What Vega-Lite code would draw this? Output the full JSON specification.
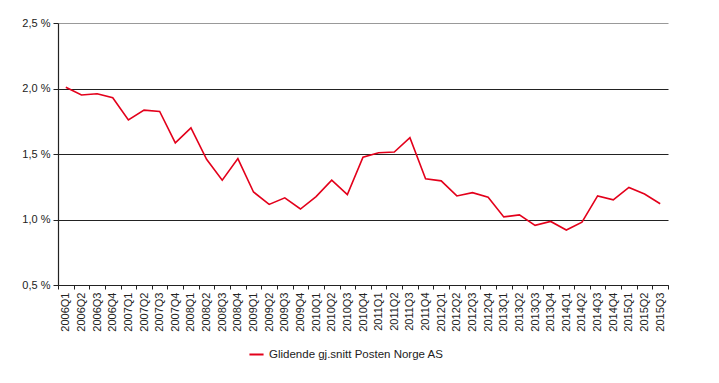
{
  "$schema": "https://vega.github.io/schema/vega-lite/v6.json",
  "autosize": "none",
  "width": 610,
  "height": 262,
  "padding": {"left": 58, "top": 23, "right": 51, "bottom": 98},
  "background": "white",
  "config": {
    "view": {"stroke": null},
    "font": "Liberation Sans",
    "axis": {"labelFont": "Liberation Sans", "labelColor": "#222", "labelFontSize": 11}
  },
  "data": {
    "values": [
      {"q": "2006Q1", "v": 2.01, "s": "Glidende gj.snitt Posten Norge AS"},
      {"q": "2006Q2", "v": 1.95, "s": "Glidende gj.snitt Posten Norge AS"},
      {"q": "2006Q3", "v": 1.96, "s": "Glidende gj.snitt Posten Norge AS"},
      {"q": "2006Q4", "v": 1.93, "s": "Glidende gj.snitt Posten Norge AS"},
      {"q": "2007Q1", "v": 1.76, "s": "Glidende gj.snitt Posten Norge AS"},
      {"q": "2007Q2", "v": 1.835, "s": "Glidende gj.snitt Posten Norge AS"},
      {"q": "2007Q3", "v": 1.825, "s": "Glidende gj.snitt Posten Norge AS"},
      {"q": "2007Q4", "v": 1.585, "s": "Glidende gj.snitt Posten Norge AS"},
      {"q": "2008Q1", "v": 1.70, "s": "Glidende gj.snitt Posten Norge AS"},
      {"q": "2008Q2", "v": 1.46, "s": "Glidende gj.snitt Posten Norge AS"},
      {"q": "2008Q3", "v": 1.30, "s": "Glidende gj.snitt Posten Norge AS"},
      {"q": "2008Q4", "v": 1.465, "s": "Glidende gj.snitt Posten Norge AS"},
      {"q": "2009Q1", "v": 1.21, "s": "Glidende gj.snitt Posten Norge AS"},
      {"q": "2009Q2", "v": 1.115, "s": "Glidende gj.snitt Posten Norge AS"},
      {"q": "2009Q3", "v": 1.165, "s": "Glidende gj.snitt Posten Norge AS"},
      {"q": "2009Q4", "v": 1.08, "s": "Glidende gj.snitt Posten Norge AS"},
      {"q": "2010Q1", "v": 1.175, "s": "Glidende gj.snitt Posten Norge AS"},
      {"q": "2010Q2", "v": 1.30, "s": "Glidende gj.snitt Posten Norge AS"},
      {"q": "2010Q3", "v": 1.19, "s": "Glidende gj.snitt Posten Norge AS"},
      {"q": "2010Q4", "v": 1.475, "s": "Glidende gj.snitt Posten Norge AS"},
      {"q": "2011Q1", "v": 1.51, "s": "Glidende gj.snitt Posten Norge AS"},
      {"q": "2011Q2", "v": 1.515, "s": "Glidende gj.snitt Posten Norge AS"},
      {"q": "2011Q3", "v": 1.625, "s": "Glidende gj.snitt Posten Norge AS"},
      {"q": "2011Q4", "v": 1.31, "s": "Glidende gj.snitt Posten Norge AS"},
      {"q": "2012Q1", "v": 1.295, "s": "Glidende gj.snitt Posten Norge AS"},
      {"q": "2012Q2", "v": 1.18, "s": "Glidende gj.snitt Posten Norge AS"},
      {"q": "2012Q3", "v": 1.205, "s": "Glidende gj.snitt Posten Norge AS"},
      {"q": "2012Q4", "v": 1.17, "s": "Glidende gj.snitt Posten Norge AS"},
      {"q": "2013Q1", "v": 1.02, "s": "Glidende gj.snitt Posten Norge AS"},
      {"q": "2013Q2", "v": 1.035, "s": "Glidende gj.snitt Posten Norge AS"},
      {"q": "2013Q3", "v": 0.955, "s": "Glidende gj.snitt Posten Norge AS"},
      {"q": "2013Q4", "v": 0.985, "s": "Glidende gj.snitt Posten Norge AS"},
      {"q": "2014Q1", "v": 0.92, "s": "Glidende gj.snitt Posten Norge AS"},
      {"q": "2014Q2", "v": 0.98, "s": "Glidende gj.snitt Posten Norge AS"},
      {"q": "2014Q3", "v": 1.18, "s": "Glidende gj.snitt Posten Norge AS"},
      {"q": "2014Q4", "v": 1.15, "s": "Glidende gj.snitt Posten Norge AS"},
      {"q": "2015Q1", "v": 1.245, "s": "Glidende gj.snitt Posten Norge AS"},
      {"q": "2015Q2", "v": 1.195, "s": "Glidende gj.snitt Posten Norge AS"},
      {"q": "2015Q3", "v": 1.12, "s": "Glidende gj.snitt Posten Norge AS"}
    ]
  },
  "mark": {"type": "line", "strokeWidth": 1.6},
  "encoding": {
    "x": {
      "field": "q", "type": "ordinal", "sort": null,
      "scale": {"type": "band", "paddingInner": 0, "paddingOuter": 0},
      "axis": {
        "title": null, "labelAngle": 270, "labelAlign": "right", "labelBaseline": "middle",
        "tickBand": "extent", "domainColor": "#222", "domainWidth": 1.2,
        "tickColor": "#222", "tickSize": 4, "labelPadding": 3, "grid": false
      }
    },
    "y": {
      "field": "v", "type": "quantitative",
      "scale": {"domain": [0.5, 2.5], "nice": false, "zero": false},
      "axis": {
        "title": null, "values": [0.5, 1.0, 1.5, 2.0, 2.5],
        "labelExpr": "replace(format(datum.value, '.1f'), '.', ',') + ' %'",
        "grid": true,
        "gridColor": {"condition": {"test": "datum.value === 2.5", "value": "#999"}, "value": "#222"},
        "gridWidth": 1.2,
        "domainColor": "#222", "domainWidth": 1.2,
        "tickColor": "#222", "tickSize": 5, "labelPadding": 3
      }
    },
    "color": {
      "field": "s", "type": "nominal",
      "scale": {"range": ["#e3001b"]},
      "legend": {
        "title": null, "orient": "none", "legendX": 190, "legendY": 323,
        "symbolType": "stroke", "symbolSize": 200, "symbolStrokeWidth": 2,
        "labelFontSize": 11.5, "labelColor": "#222", "labelFont": "Liberation Sans",
        "labelLimit": 0
      }
    }
  }
}
